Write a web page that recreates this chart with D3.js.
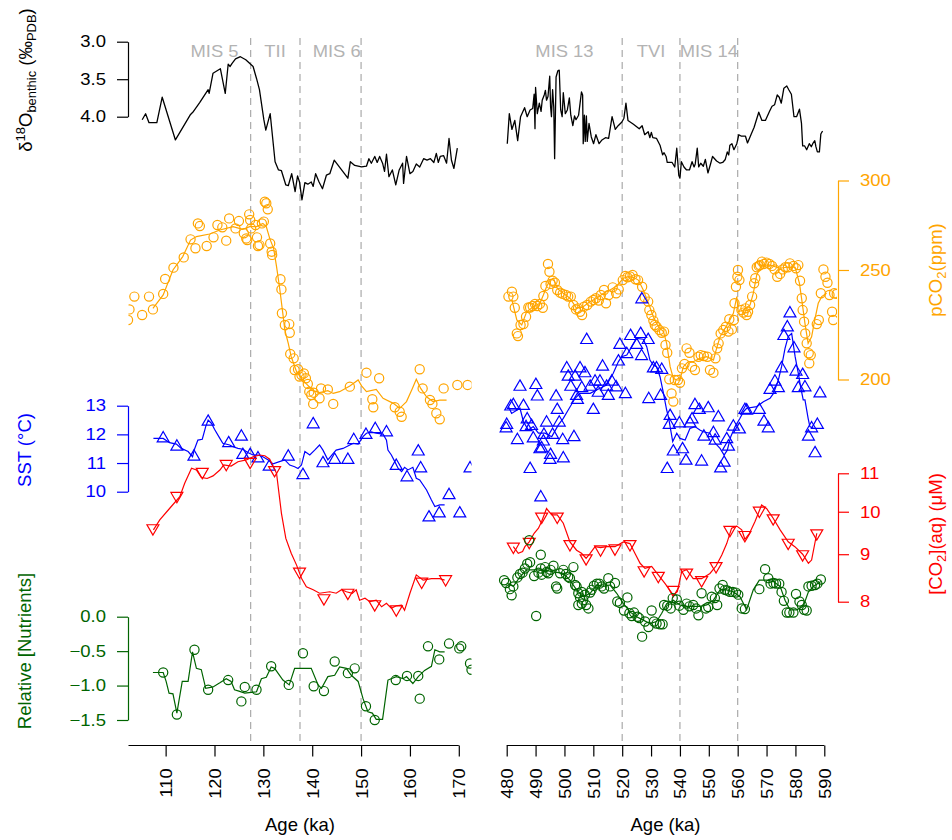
<!DOCTYPE html>
<html>
<head>
<meta charset="utf-8">
<script src="https://cdn.jsdelivr.net/npm/d3@7"></script>
<style>
  body { margin: 0; background: #fff; }
  svg { display: block; }
  text { font-family: "Liberation Sans", Arial, Helvetica, sans-serif; }
</style>
</head>
<body>
<svg id="chart" width="952" height="840"></svg>
<script>
// ---------- Age windows (ka) ----------
const ageLimLeft = [105, 170];
const ageLimRight = [480, 590];
const ageTicksLeft = [110, 120, 130, 140, 150, 160, 170];
const ageTicksRight = [480, 490, 500, 510, 520, 530, 540, 550, 560, 570, 580, 590];
const boundariesLeft = [127.4, 137.5, 150];
const boundariesRight = [520, 540, 560];
const stageLabelsLeft = [["MIS 5", 120], ["TII", 132.4], ["MIS 6", 145]];
const stageLabelsRight = [["MIS 13", 500], ["TVI", 530], ["MIS 14", 550]];

// ---------- benthic d18O (permil PDB) ----------
const d18oLeft = [[105.2,4.04],[105.9,3.96],[106.6,4.08],[108.2,4.08],[109.3,3.74],[112.0,4.31],[115.1,3.97],[115.7,3.93],[117.0,3.81],[118.3,3.68],[118.7,3.64],[118.9,3.69],[119.7,3.42],[121.2,3.36],[122.2,3.69],[122.8,3.30],[123.2,3.33],[123.6,3.29],[124.3,3.23],[125.3,3.20],[126.4,3.24],[127.9,3.33],[128.6,3.49],[129.2,3.64],[130.1,4.04],[130.5,4.18],[131.4,3.96],[132.4,4.60],[133.1,4.71],[133.7,4.72],[134.6,4.91],[135.1,4.92],[135.8,4.76],[136.5,5.00],[137.0,4.79],[137.4,4.87],[137.9,5.11],[138.5,4.88],[139.1,4.90],[139.8,4.87],[140.2,4.93],[140.7,4.76],[141.4,4.87],[142.1,4.96],[142.9,4.78],[143.6,4.76],[144.5,4.58],[147.3,4.82],[147.8,4.60],[148.7,4.65],[150.1,4.67],[151.1,4.66],[151.6,4.56],[152.1,4.62],[152.8,4.53],[153.3,4.61],[153.8,4.53],[154.4,4.62],[154.8,4.73],[155.2,4.50],[155.7,4.80],[156.4,4.71],[157.1,4.91],[157.8,4.71],[158.5,4.62],[158.7,4.89],[159.3,4.53],[160.0,4.76],[160.6,4.73],[161.3,4.63],[162.0,4.67],[162.8,4.56],[163.5,4.58],[164.2,4.56],[164.9,4.61],[165.4,4.49],[165.8,4.61],[166.2,4.53],[166.9,4.52],[167.5,4.62],[168.0,4.29],[168.5,4.58],[169.0,4.69],[169.7,4.42]];
const d18oRight = [[480.2,4.36],[480.9,3.96],[481.8,4.17],[482.8,4.05],[483.8,4.32],[484.8,4.00],[486.2,3.88],[487.1,4.00],[488.1,3.91],[489.0,3.89],[489.5,3.70],[489.8,4.16],[490.0,3.61],[490.6,3.96],[491.3,3.82],[491.9,3.93],[492.3,3.78],[493.0,3.71],[493.4,3.65],[493.8,3.78],[494.3,3.73],[494.9,3.46],[495.2,3.87],[495.5,4.00],[495.9,3.64],[496.3,3.87],[496.6,4.56],[497.1,3.47],[497.7,3.39],[498.2,3.38],[498.7,3.91],[499.2,4.00],[499.6,3.68],[500.3,3.96],[501.0,3.91],[501.7,3.75],[502.2,3.98],[502.9,4.12],[503.5,3.99],[504.0,4.04],[504.9,3.98],[505.9,3.67],[506.3,3.71],[506.5,4.36],[506.9,3.98],[507.2,4.33],[507.6,3.99],[507.9,4.33],[508.5,4.09],[509.3,4.27],[510.1,4.36],[510.9,4.24],[512.0,4.36],[513.0,4.31],[514.2,4.28],[515.3,4.29],[516.5,4.00],[517.6,4.17],[518.6,4.12],[519.9,4.07],[520.6,4.02],[521.3,3.82],[522.0,4.05],[523.9,4.10],[525.9,4.16],[526.9,4.12],[527.8,4.24],[529.0,4.20],[529.6,4.28],[530.1,4.21],[530.6,4.28],[531.9,4.29],[533.1,4.38],[534.0,4.51],[534.5,4.48],[535.2,4.53],[535.6,4.61],[537.3,4.61],[538.2,4.67],[538.9,4.42],[539.6,4.78],[540.0,4.82],[540.5,4.60],[541.4,4.67],[542.3,4.71],[543.3,4.71],[544.2,4.60],[544.9,4.67],[545.3,4.63],[546.0,4.42],[546.5,4.67],[547.2,4.62],[548.1,4.66],[548.8,4.57],[549.7,4.75],[550.6,4.63],[551.3,4.53],[552.7,4.59],[553.9,4.62],[554.8,4.61],[555.7,4.57],[556.4,4.47],[556.9,4.51],[557.3,4.38],[558.0,4.36],[558.7,4.44],[559.7,4.36],[560.4,4.24],[561.3,4.26],[562.7,4.26],[563.4,4.35],[564.6,4.24],[565.7,4.14],[567.3,3.94],[568.4,4.05],[569.6,4.05],[571.0,3.93],[571.9,3.86],[572.8,3.84],[573.7,3.71],[574.4,3.74],[575.1,3.82],[576.0,3.62],[577.0,3.59],[577.7,3.64],[578.6,3.70],[579.5,4.00],[580.4,4.00],[581.4,3.90],[582.1,4.09],[582.5,4.39],[583.2,4.39],[583.9,4.44],[584.8,4.36],[585.5,4.40],[586.0,4.36],[586.7,4.32],[587.1,4.40],[587.6,4.47],[588.3,4.47],[588.8,4.23],[589.4,4.19]];

// ---------- atmospheric pCO2 (ppm): samples and running mean ----------
const pco2Left = [[102.3,225.8],[102.6,230.7],[103.6,236.8],[105.2,228.1],[106.6,236.8],[107.4,230.7],[109.5,238.1],[109.9,245.5],[111.6,251.2],[113.7,256.5],[115.1,266.1],[116.1,261.3],[116.6,274.9],[117.0,273.4],[118.4,262.5],[119.8,267.2],[120.6,274.0],[121.6,272.7],[122.4,265.4],[123.0,277.7],[124.3,272.1],[125.0,276.2],[126.0,269.4],[126.5,266.6],[126.7,265.7],[127.1,280.0],[127.3,276.8],[127.5,272.1],[128.4,274.0],[128.7,267.2],[128.9,262.5],[129.2,263.0],[129.7,274.9],[130.1,275.9],[130.3,287.3],[130.6,286.4],[130.9,282.9],[131.4,263.9],[131.7,259.5],[131.8,257.8],[133.5,245.3],[133.7,240.3],[133.8,228.9],[134.4,223.5],[135.3,223.9],[135.4,220.0],[135.5,210.7],[136.2,208.8],[136.4,203.9],[137.1,204.2],[137.4,201.2],[137.8,201.8],[138.3,202.5],[138.7,200.5],[139.1,198.2],[139.4,195.1],[139.8,193.8],[140.2,190.3],[140.3,194.7],[141.5,192.5],[141.8,196.4],[143.2,196.0],[144.3,190.3],[147.7,197.1],[151.1,202.8],[152.3,192.1],[152.5,189.0],[153.7,200.5],[156.9,189.0],[157.9,187.3],[158.3,185.4],[162.0,204.2],[162.6,196.4],[164.1,191.8],[164.6,190.3],[165.4,186.7],[166.1,184.4],[166.9,196.4],[169.7,197.8],[171.8,197.8]];
const pco2MeanLeft = [[107.4,231.2],[109.5,237.6],[111.5,250.0],[113.5,256.9],[115.1,265.7],[116.3,267.6],[119.0,269.0],[121.1,271.2],[123.8,273.1],[125.8,271.6],[127.2,273.1],[128.6,273.1],[129.9,274.9],[130.6,273.1],[131.3,266.6],[132.1,261.3],[132.7,251.7],[133.3,241.6],[133.9,230.4],[134.4,221.2],[135.1,215.3],[135.7,209.5],[136.8,203.2],[137.8,200.5],[138.8,198.2],[140.2,195.5],[141.5,194.7],[143.2,195.5],[144.3,194.4],[145.6,195.1],[147.7,197.4],[149.4,199.8],[150.1,197.4],[151.1,195.1],[153.1,196.0],[154.5,192.5],[156.6,190.5],[157.9,188.6],[159.3,191.2],[160.5,196.4],[161.3,200.1],[162.2,196.4],[163.4,193.1],[164.7,191.2],[166.1,191.8],[167.5,191.8]];
const pco2Right = [[480.6,236.8],[481.8,239.2],[482.3,236.8],[482.8,231.5],[483.5,219.7],[483.9,218.5],[484.8,223.5],[485.8,223.9],[486.7,227.3],[487.5,231.6],[488.1,231.6],[489.0,232.3],[489.8,233.3],[490.6,232.3],[491.5,233.3],[492.5,231.5],[492.7,237.1],[493.4,242.0],[494.3,253.1],[494.8,249.1],[495.2,243.0],[495.9,244.6],[496.7,243.6],[497.5,240.0],[498.5,238.7],[499.4,238.1],[500.5,237.6],[501.3,236.8],[502.2,236.8],[503.1,232.8],[504.0,230.7],[504.7,231.2],[505.4,229.6],[506.1,228.1],[506.8,232.0],[507.9,232.8],[509.1,234.4],[510.0,235.2],[510.9,236.0],[511.9,234.9],[512.6,237.6],[513.7,240.0],[514.4,233.6],[515.3,237.6],[516.7,241.3],[517.9,238.4],[518.8,240.3],[520.2,244.9],[521.1,247.0],[521.8,246.3],[522.7,246.7],[523.6,247.5],[524.6,245.3],[525.5,244.9],[526.9,241.6],[527.8,236.4],[529.0,234.4],[529.4,230.4],[530.1,228.1],[530.8,225.5],[531.3,223.5],[531.9,222.7],[532.9,221.2],[533.7,220.0],[534.5,220.5],[535.0,214.6],[535.6,211.2],[536.3,200.1],[537.1,194.4],[537.7,191.2],[538.2,199.8],[539.3,199.8],[540.0,198.7],[540.7,204.6],[541.6,206.4],[542.3,213.1],[543.3,211.2],[544.2,205.3],[545.2,203.9],[546.4,209.5],[547.2,210.2],[548.3,209.8],[549.5,209.5],[550.4,203.9],[551.6,202.8],[552.3,208.8],[552.9,213.1],[553.4,215.3],[554.1,219.7],[555.0,221.2],[555.9,222.7],[556.8,220.5],[557.1,226.1],[558.0,221.5],[558.7,225.8],[558.9,233.6],[559.4,241.6],[559.9,246.6],[560.1,250.0],[560.6,244.9],[561.3,230.4],[562.0,229.2],[562.7,231.2],[563.1,228.1],[563.6,229.6],[564.3,232.8],[565.0,236.8],[565.7,243.3],[566.1,245.8],[566.6,251.4],[567.3,252.1],[567.7,252.5],[568.4,254.3],[569.1,253.1],[570.0,253.8],[571.0,253.1],[571.9,252.1],[572.8,250.3],[573.7,246.6],[574.7,248.0],[575.6,250.3],[576.5,251.4],[577.4,251.4],[578.1,253.4],[579.3,252.1],[580.2,250.9],[581.0,252.5],[581.6,244.6],[582.2,236.0],[582.5,230.4],[583.0,225.0],[583.4,219.7],[583.9,215.3],[584.6,211.0],[584.8,206.7],[585.3,210.2],[587.4,223.9],[588.1,225.8],[588.8,238.4],[589.7,250.3],[590.4,246.6],[591.1,243.6],[591.8,237.6],[592.7,229.6],[593.1,225.8],[593.4,238.4],[594.3,238.1]];
const pco2MeanRight = [[481.8,235.2],[483.5,225.8],[485.2,223.5],[486.9,229.6],[489.2,232.0],[491.5,233.6],[492.7,237.6],[493.8,241.6],[495.0,244.9],[496.2,245.8],[497.5,240.8],[499.6,238.4],[501.9,236.0],[504.2,231.2],[506.5,232.0],[508.9,234.4],[511.2,236.0],[513.5,238.4],[515.8,240.0],[518.1,242.0],[520.4,245.8],[522.1,246.6],[523.9,246.3],[525.6,244.9],[527.3,240.0],[529.1,233.6],[530.8,227.3],[532.5,222.7],[534.3,220.5],[535.4,215.3],[536.6,205.3],[537.7,200.5],[538.9,199.8],[540.0,199.8],[541.2,205.3],[542.9,207.4],[544.6,207.4],[546.9,208.8],[549.3,209.5],[551.6,208.1],[552.7,213.1],[553.9,218.2],[555.6,221.9],[557.3,225.8],[558.5,228.9],[559.7,236.8],[560.2,229.6],[562.0,230.4],[564.3,232.8],[565.4,238.4],[566.6,247.5],[568.3,252.5],[571.2,252.5],[574.7,250.9],[577.0,251.4],[579.9,251.4],[581.4,243.3],[582.2,235.2],[583.3,224.2],[584.4,215.3],[585.6,218.2],[586.7,225.8],[587.9,233.6],[589.1,236.8],[590.8,238.4]];

// ---------- sea surface temperature (deg C): samples and running mean ----------
const sstLeft = [[109.5,11.86],[112.3,11.57],[115.8,11.22],[118.7,12.44],[122.9,11.69],[125.5,11.92],[125.8,11.28],[127.3,11.28],[128.9,11.16],[131.2,10.87],[135.1,11.22],[138.1,10.58],[140.2,12.35],[142.2,10.99],[144.6,11.11],[147.3,11.11],[148.5,11.80],[151.0,11.98],[152.9,12.18],[155.2,12.07],[157.2,10.90],[159.4,10.50],[161.7,11.40],[162.2,10.81],[163.9,9.10],[166.0,9.24],[168.0,9.88],[170.2,9.24],[172.3,10.81]];
const sstMeanLeft = [[107.5,11.86],[109.5,11.86],[110.8,11.71],[112.2,11.66],[113.2,11.51],[114.6,11.40],[115.5,11.22],[115.9,11.48],[116.6,11.80],[117.5,11.83],[118.2,12.27],[118.7,12.50],[119.4,12.38],[120.0,12.18],[121.1,11.86],[121.7,11.69],[123.1,11.63],[123.8,11.57],[124.8,11.51],[125.8,11.48],[126.9,11.36],[127.9,11.28],[128.9,11.28],[129.9,11.22],[131.0,11.11],[132.0,10.97],[133.3,11.05],[134.4,11.11],[135.4,10.93],[136.4,10.87],[137.1,10.81],[137.8,10.93],[138.5,11.40],[139.5,11.28],[140.5,11.45],[141.5,11.63],[142.2,11.45],[143.2,11.11],[144.3,11.34],[144.9,11.45],[146.3,11.51],[147.7,11.63],[148.4,11.69],[149.4,11.66],[150.4,11.92],[151.1,12.04],[152.1,12.09],[153.1,12.04],[154.5,12.01],[155.2,11.80],[155.5,11.45],[156.2,11.28],[156.9,11.05],[157.6,10.81],[158.3,10.70],[158.9,10.85],[159.6,10.76],[160.6,10.85],[161.3,10.47],[162.0,10.41],[163.4,10.06],[164.4,9.71],[165.1,9.48],[166.1,9.54],[167.1,9.54]];
const sstRight = [[526.8,16.71],[507.7,15.29],[500.8,14.30],[505.4,14.30],[513.2,14.36],[519.2,15.12],[522.9,15.43],[526.4,15.50],[525.0,15.12],[529.0,15.29],[521.6,14.80],[518.7,14.54],[526.7,14.73],[530.8,14.30],[531.9,14.30],[533.7,14.25],[501.3,14.01],[503.7,14.01],[507.1,14.13],[510.6,13.84],[502.2,13.66],[506.0,13.61],[508.9,13.66],[512.3,13.84],[516.4,13.84],[514.6,13.66],[517.9,13.64],[504.2,13.34],[504.5,13.20],[511.7,13.45],[515.2,13.34],[484.6,13.66],[490.1,13.72],[490.6,13.32],[497.1,13.32],[482.3,13.02],[481.4,12.97],[485.8,12.99],[497.5,12.85],[510.0,12.85],[521.1,13.40],[529.2,13.23],[533.3,13.34],[578.1,16.22],[577.2,15.73],[576.0,15.43],[579.5,15.00],[575.2,14.30],[572.9,13.84],[574.1,13.61],[571.2,13.55],[580.2,14.19],[582.5,14.07],[583.3,13.64],[581.0,13.61],[588.5,13.43],[545.2,13.02],[546.7,12.85],[549.8,12.91],[562.5,12.85],[567.5,12.85],[480.0,12.33],[479.8,12.21],[487.1,12.52],[486.7,12.25],[488.6,12.29],[493.8,12.41],[498.2,12.41],[483.7,11.80],[489.2,11.86],[492.9,11.98],[495.9,11.98],[499.4,11.80],[503.3,11.90],[492.7,11.75],[492.1,11.51],[491.5,11.48],[495.2,11.28],[495.0,11.11],[499.6,11.16],[488.1,10.79],[491.8,9.80],[536.6,12.64],[536.3,12.33],[539.8,12.38],[537.7,11.40],[540.9,11.48],[535.6,10.79],[542.1,11.08],[547.5,11.05],[553.3,12.59],[544.2,12.52],[543.5,12.38],[551.6,12.04],[548.3,11.92],[552.2,11.78],[556.2,11.83],[558.5,12.27],[560.6,12.17],[556.8,11.57],[555.3,11.01],[554.1,10.81],[563.1,12.83],[569.1,12.44],[570.6,12.21],[584.5,11.92],[587.6,12.33],[585.6,12.21],[586.8,11.34]];
const sstMeanRight = [[480.6,12.97],[481.7,12.73],[484.6,12.91],[485.8,12.44],[487.5,12.15],[489.2,12.27],[491.0,12.04],[493.3,12.04],[495.6,11.92],[497.9,12.33],[499.6,12.56],[501.3,12.85],[503.7,13.26],[505.4,13.43],[508.9,13.43],[512.3,13.61],[514.6,13.72],[516.9,14.13],[518.7,14.54],[519.8,14.71],[521.6,14.77],[523.3,15.06],[525.0,15.35],[527.3,15.32],[528.5,15.06],[529.6,14.59],[530.8,14.42],[531.9,14.36],[533.1,14.01],[534.3,13.43],[535.4,12.85],[536.0,12.62],[537.5,11.75],[538.9,12.04],[540.0,11.86],[541.8,11.80],[543.5,12.21],[545.2,12.27],[546.9,12.15],[548.1,12.09],[550.4,12.04],[552.2,11.69],[553.9,11.51],[555.3,11.28],[556.4,11.45],[557.6,11.92],[559.1,12.27],[560.8,12.56],[562.0,12.79],[563.1,12.91],[566.6,12.97],[568.9,13.14],[571.2,13.26],[572.4,13.43],[574.1,13.90],[575.2,14.36],[576.4,15.00],[577.5,15.41],[578.7,15.52],[579.9,14.71],[581.0,14.13],[581.8,13.66],[582.7,13.20],[583.3,13.20],[584.4,12.56],[585.0,12.27],[586.2,12.21]];

// ---------- dissolved [CO2](aq) (uM): samples and running mean ----------
const co2aqLeft = [[107.4,9.60],[112.3,10.40],[117.5,11.04],[122.4,11.26],[127.3,11.32],[132.3,11.09],[137.4,8.62],[142.4,8.07],[147.3,8.18],[152.8,7.95],[157.2,7.85],[162.4,8.41],[167.3,8.46]];
const co2aqMeanLeft = [[107.5,9.56],[108.8,9.80],[110.8,10.08],[112.9,10.38],[113.9,10.73],[115.3,11.14],[116.3,11.09],[117.3,10.89],[118.5,10.86],[119.7,10.93],[121.1,11.09],[121.9,11.23],[123.4,11.20],[124.8,11.32],[126.5,11.37],[127.9,11.46],[129.2,11.51],[130.3,11.49],[131.3,11.39],[132.7,11.00],[133.7,9.96],[134.6,9.36],[135.7,9.02],[136.8,8.76],[137.8,8.48],[138.8,8.30],[140.2,8.24],[141.5,8.17],[143.6,8.20],[144.9,8.17],[146.0,8.24],[147.0,8.20],[148.2,8.17],[149.0,8.24],[149.7,8.03],[150.8,8.07],[151.8,8.00],[153.1,8.03],[154.2,7.90],[155.2,7.97],[156.2,7.87],[157.2,7.92],[158.3,7.93],[158.9,7.83],[160.0,8.17],[161.3,8.55],[162.7,8.44],[164.4,8.47],[166.1,8.47],[167.1,8.44]];
const co2aqRight = [[482.3,9.17],[487.8,9.28],[492.1,9.88],[497.5,9.88],[501.9,9.23],[507.5,8.91],[512.5,9.11],[517.5,9.13],[522.7,9.23],[527.6,8.65],[532.5,8.53],[537.7,8.24],[542.3,8.60],[547.5,8.44],[552.5,8.74],[557.3,9.56],[562.5,9.44],[567.5,10.03],[572.3,9.84],[577.5,9.26],[582.5,9.00],[587.4,9.48]];
const co2aqMeanRight = [[482.3,9.17],[484.0,9.02],[485.5,9.06],[486.3,9.17],[487.8,9.28],[489.5,9.48],[491.0,9.60],[492.1,9.76],[493.8,10.08],[495.6,9.92],[497.5,9.92],[499.6,9.72],[501.9,9.28],[504.2,9.09],[505.9,9.02],[507.5,8.91],[508.9,9.02],[510.6,9.17],[512.5,9.15],[514.6,9.17],[517.5,9.17],[520.4,9.28],[522.7,9.24],[524.4,9.02],[526.2,8.80],[527.9,8.69],[530.2,8.73],[532.5,8.55],[534.8,8.37],[537.7,8.13],[539.1,8.20],[540.6,8.62],[542.3,8.66],[544.6,8.47],[547.5,8.47],[550.4,8.58],[552.5,8.74],[554.5,8.98],[556.2,9.24],[557.9,9.60],[559.7,9.65],[561.4,9.56],[562.5,9.34],[564.1,9.48],[566.0,9.76],[568.3,10.17],[570.0,10.08],[572.3,9.84],[574.7,9.56],[577.5,9.28],[579.8,9.17],[582.5,9.00],[584.5,8.80],[585.6,8.87],[587.4,9.48]];

// ---------- relative nutrient concentration: samples and running mean ----------
const nutrLeft = [[109.5,-0.81],[112.3,-1.42],[115.9,-0.48],[118.7,-1.06],[122.8,-0.92],[125.5,-1.23],[126.2,-1.02],[128.6,-1.06],[131.6,-0.72],[135.2,-0.99],[138.1,-0.53],[140.3,-1.01],[142.4,-1.08],[144.6,-0.65],[147.3,-0.82],[148.7,-0.75],[151.0,-1.30],[152.8,-1.50],[157.1,-0.92],[159.4,-0.86],[161.7,-0.86],[162.0,-1.19],[163.7,-0.43],[166.0,-0.62],[168.0,-0.39],[170.1,-0.46],[170.5,-0.43],[172.3,-0.68],[172.6,-0.77]];
const nutrMeanLeft = [[107.4,-0.81],[109.5,-0.81],[110.1,-0.94],[110.7,-1.11],[111.5,-1.12],[112.3,-1.40],[113.4,-0.94],[114.6,-0.94],[115.5,-0.51],[116.3,-0.75],[117.3,-0.77],[118.2,-1.04],[119.7,-1.02],[121.1,-0.96],[122.4,-0.90],[123.4,-0.94],[124.1,-1.06],[125.0,-1.08],[126.2,-1.11],[127.5,-1.10],[128.6,-1.09],[129.6,-0.90],[130.6,-0.88],[131.6,-0.73],[132.3,-0.75],[134.0,-0.92],[135.3,-0.99],[136.4,-0.75],[138.8,-0.75],[139.8,-0.75],[141.2,-0.99],[141.9,-1.04],[143.2,-0.87],[144.6,-0.85],[145.6,-0.73],[147.0,-0.75],[148.0,-0.85],[149.4,-0.94],[150.4,-1.19],[151.4,-1.38],[152.3,-1.40],[153.1,-1.49],[154.4,-1.49],[155.5,-0.92],[157.2,-0.87],[158.6,-0.90],[159.3,-0.87],[160.6,-0.97],[161.7,-0.87],[163.0,-0.78],[164.4,-0.72],[165.1,-0.48],[166.1,-0.51],[167.1,-0.51]];
const nutrRight = [[479.1,0.53],[479.8,0.49],[481.1,0.40],[481.7,0.31],[482.3,0.44],[483.7,0.57],[484.6,0.62],[485.5,0.64],[486.3,0.70],[487.1,0.77],[488.1,0.79],[489.5,0.59],[490.2,0.01],[491.0,0.64],[491.8,0.70],[492.1,0.61],[493.3,0.72],[493.8,0.65],[494.4,0.63],[495.2,0.68],[496.2,0.74],[497.1,0.44],[497.5,0.41],[498.5,0.63],[499.6,0.68],[500.5,0.62],[501.3,0.58],[501.9,0.56],[503.1,0.72],[503.7,0.46],[504.2,0.44],[504.8,0.34],[505.4,0.28],[506.0,0.36],[506.5,0.24],[507.1,0.32],[504.8,0.17],[506.0,0.19],[507.5,0.17],[508.3,0.12],[508.9,0.35],[509.4,0.39],[510.2,0.45],[511.2,0.48],[512.1,0.48],[512.9,0.44],[513.7,0.41],[515.2,0.56],[515.8,0.44],[517.5,0.49],[518.3,0.22],[519.2,0.20],[520.6,0.09],[521.8,0.28],[522.5,0.05],[523.3,0.01],[524.1,0.06],[525.3,0.00],[525.9,-0.02],[526.9,-0.29],[527.9,-0.07],[529.1,-0.15],[530.2,0.09],[531.0,-0.07],[531.9,-0.10],[533.1,-0.11],[534.0,-0.11],[534.5,0.17],[535.6,0.16],[536.8,0.12],[537.5,0.27],[538.9,0.25],[539.8,0.16],[541.2,0.10],[542.3,0.19],[543.3,0.15],[544.6,0.17],[545.6,0.12],[546.4,0.02],[547.5,0.34],[549.0,0.12],[549.8,0.14],[551.0,0.29],[552.1,0.27],[552.9,0.17],[553.7,0.41],[554.8,0.46],[555.6,0.39],[556.4,0.38],[557.3,0.36],[558.3,0.36],[559.4,0.35],[560.2,0.32],[561.4,0.12],[562.5,0.11],[567.5,0.40],[569.5,0.69],[570.6,0.56],[571.4,0.48],[572.4,0.49],[573.3,0.48],[574.4,0.48],[575.2,0.36],[576.0,0.23],[577.0,0.06],[577.9,0.06],[579.3,0.06],[580.2,0.33],[581.4,0.22],[582.2,0.17],[583.0,0.10],[583.9,0.09],[584.5,0.44],[585.6,0.45],[586.8,0.46],[587.6,0.48],[588.8,0.54],[487.8,1.11],[491.8,0.90]];
const nutrMeanRight = [[480.0,0.49],[482.3,0.44],[484.6,0.58],[486.9,0.68],[489.2,0.68],[492.7,0.68],[496.2,0.65],[499.6,0.63],[501.9,0.53],[504.2,0.39],[506.5,0.29],[508.9,0.34],[511.2,0.46],[513.5,0.44],[515.8,0.46],[518.1,0.34],[520.4,0.19],[522.7,0.07],[525.0,0.00],[527.3,-0.05],[529.6,-0.10],[531.9,-0.07],[533.7,0.05],[535.4,0.19],[537.7,0.24],[540.0,0.17],[542.3,0.15],[544.6,0.15],[546.9,0.15],[549.3,0.17],[551.6,0.24],[553.9,0.39],[556.2,0.39],[558.5,0.36],[560.8,0.29],[563.1,0.10],[565.4,0.39],[567.5,0.53],[570.0,0.53],[572.4,0.51],[574.7,0.44],[576.4,0.24],[578.1,0.10],[580.4,0.10],[582.7,0.15],[584.5,0.36],[586.2,0.44],[588.8,0.51]];

// ---------- axis ticks ----------
const d18oTicks = [3.0, 3.5, 4.0];
const pco2Ticks = [200, 250, 300];
const sstTicks = [10, 11, 12, 13];
const co2aqTicks = [8, 9, 10, 11];
const nutrTicks = [0, -0.5, -1.0, -1.5];

// ---------- colours ----------
const colD18O = "#000000";
const colPCO2 = "#FFA500";
const colSST = "#0000FF";
const colCO2aq = "#FF0000";
const colNutr = "#006400";
const colGuide = "#AAAAAA";
const colStage = "#B3B3B3";

// ---------- layout ----------
const svg = d3.select("#chart");
const W = 952, H = 840;
const axisY = 745.5;
const leftAxisX = 128;
const rightAxisX = 838;
const tickFont = 16.5;
const titleFont = 18.5;

// Plot regions use R-style 4% padding around the age limits
function padded(lim) { const r = lim[1] - lim[0]; return [lim[0] - 0.04 * r, lim[1] + 0.04 * r]; }
const xLeft = d3.scaleLinear().domain(padded(ageLimLeft)).range([128.5, 471.5]);
const xRight = d3.scaleLinear().domain(padded(ageLimRight)).range([494, 837]);

const yD18O = d3.scaleLinear().domain([3, 4]).range([41.7, 116.7]);
const yPCO2 = d3.scaleLog().domain([200, 300]).range([379.5, 180.5]);
const ySST = d3.scaleLinear().domain([10, 13]).range([491.7, 405.7]);
const yCO2aq = d3.scaleLog().domain([8, 11]).range([601.7, 473.3]);
const yNutr = d3.scaleLinear().domain([-1.5, 0]).range([720, 616.7]);

// widen glyph runs slightly along their baseline
function widen(sel, k) {
  sel.each(function () {
    const w = this.getComputedTextLength();
    this.setAttribute("textLength", (w * k).toFixed(2));
    this.setAttribute("lengthAdjust", "spacingAndGlyphs");
  });
}

const panels = [
  { id: "L", x: xLeft, lim: ageLimLeft, ticks: ageTicksLeft, bounds: boundariesLeft, stages: stageLabelsLeft,
    axisStart: padded(ageLimLeft)[0],
    d18o: d18oLeft, pco2: pco2Left, pco2Mean: pco2MeanLeft, sst: sstLeft, sstMean: sstMeanLeft,
    co2aq: co2aqLeft, co2aqMean: co2aqMeanLeft, nutr: nutrLeft, nutrMean: nutrMeanLeft },
  { id: "R", x: xRight, lim: ageLimRight, ticks: ageTicksRight, bounds: boundariesRight, stages: stageLabelsRight,
    axisStart: ageLimRight[0],
    d18o: d18oRight, pco2: pco2Right, pco2Mean: pco2MeanRight, sst: sstRight, sstMean: sstMeanRight,
    co2aq: co2aqRight, co2aqMean: co2aqMeanRight, nutr: nutrRight, nutrMean: nutrMeanRight }
];

const defs = svg.append("defs");

panels.forEach(p => {
  const [x0, x1] = p.x.range();
  defs.append("clipPath").attr("id", "clip" + p.id)
    .append("rect").attr("x", x0).attr("y", 0).attr("width", x1 - x0).attr("height", H);

  // stage boundaries
  svg.append("g").selectAll("line").data(p.bounds).join("line")
    .attr("x1", d => p.x(d)).attr("x2", d => p.x(d))
    .attr("y1", 38).attr("y2", axisY)
    .attr("stroke", colGuide).attr("stroke-width", 1.2).attr("stroke-dasharray", "7,5");

  // stage labels
  svg.append("g").selectAll("text").data(p.stages).join("text")
    .attr("x", d => p.x(d[1])).attr("y", 57)
    .attr("text-anchor", "middle").attr("font-size", 17).attr("fill", colStage)
    .text(d => d[0])
    .call(widen, 1.08);

  const g = svg.append("g").attr("clip-path", `url(#clip${p.id})`);
  const lineOf = ys => d3.line().x(d => p.x(d[0])).y(d => ys(d[1]));

  // benthic d18O
  g.append("path").datum(p.d18o).attr("d", lineOf(yD18O))
    .attr("fill", "none").attr("stroke", colD18O).attr("stroke-width", 1.3).attr("stroke-linejoin", "round");

  // pCO2
  g.append("path").datum(p.pco2Mean).attr("d", lineOf(yPCO2))
    .attr("fill", "none").attr("stroke", colPCO2).attr("stroke-width", 1.2);
  g.append("g").selectAll("circle").data(p.pco2).join("circle")
    .attr("cx", d => p.x(d[0])).attr("cy", d => yPCO2(d[1])).attr("r", 4.6)
    .attr("fill", "none").attr("stroke", colPCO2).attr("stroke-width", 1.2);

  // SST
  g.append("path").datum(p.sstMean).attr("d", lineOf(ySST))
    .attr("fill", "none").attr("stroke", colSST).attr("stroke-width", 1.2);
  const tri = d3.symbol().type(d3.symbolTriangle).size(62);
  g.append("g").selectAll("path").data(p.sst).join("path")
    .attr("d", tri).attr("transform", d => `translate(${p.x(d[0])},${ySST(d[1])})`)
    .attr("fill", "none").attr("stroke", colSST).attr("stroke-width", 1.2);

  // [CO2](aq)
  g.append("path").datum(p.co2aqMean).attr("d", lineOf(yCO2aq))
    .attr("fill", "none").attr("stroke", colCO2aq).attr("stroke-width", 1.2);
  g.append("g").selectAll("path").data(p.co2aq).join("path")
    .attr("d", tri).attr("transform", d => `translate(${p.x(d[0])},${yCO2aq(d[1])}) rotate(180)`)
    .attr("fill", "none").attr("stroke", colCO2aq).attr("stroke-width", 1.2);

  // nutrients
  g.append("path").datum(p.nutrMean).attr("d", lineOf(yNutr))
    .attr("fill", "none").attr("stroke", colNutr).attr("stroke-width", 1.2);
  g.append("g").selectAll("circle").data(p.nutr).join("circle")
    .attr("cx", d => p.x(d[0])).attr("cy", d => yNutr(d[1])).attr("r", 4.6)
    .attr("fill", "none").attr("stroke", colNutr).attr("stroke-width", 1.2);

  // age axis
  const ax = svg.append("g").attr("transform", `translate(0,${axisY})`)
    .call(d3.axisBottom(p.x).tickValues(p.ticks).tickSize(11).tickSizeOuter(0).tickFormat(d3.format("d")));
  ax.select(".domain").remove();
  ax.append("line").attr("x1", p.x(p.axisStart)).attr("x2", p.x(p.lim[1]))
    .attr("y1", 0).attr("y2", 0).attr("stroke", "#000").attr("stroke-width", 1.2);
  ax.selectAll(".tick line").attr("stroke", "#000").attr("stroke-width", 1.2);
  ax.selectAll(".tick text")
    .attr("transform", "rotate(-90)").attr("x", -23).attr("y", 0).attr("dy", "0.36em")
    .attr("text-anchor", "end").attr("font-size", tickFont).attr("fill", "#000")
    .call(widen, 1.1);
  ax.attr("font-family", null);

  svg.append("text").attr("x", (x0 + x1) / 2).attr("y", 831).attr("text-anchor", "middle")
    .attr("font-size", titleFont).attr("fill", "#000").text("Age (ka)");
});

// vertical value axes
function valueAxis(scale, ticks, fmt, color, side) {
  const gen = (side === "left" ? d3.axisLeft(scale) : d3.axisRight(scale))
    .tickValues(ticks).tickSize(11).tickSizeOuter(0).tickPadding(11).tickFormat(fmt);
  const a = svg.append("g").attr("transform", `translate(${side === "left" ? leftAxisX : rightAxisX},0)`).call(gen);
  a.attr("font-family", null);
  a.select(".domain").attr("stroke", color).attr("stroke-width", 1.2);
  a.selectAll(".tick line").attr("stroke", color).attr("stroke-width", 1.2);
  a.selectAll(".tick text").attr("fill", color).attr("font-size", tickFont).call(widen, 1.12);
  return a;
}
const minusFmt = f => d => d3.format(f)(d).replace("-", "\u2212");
valueAxis(yD18O, d18oTicks, d3.format(".1f"), colD18O, "left");
valueAxis(ySST, sstTicks, d3.format("d"), colSST, "left");
valueAxis(yNutr, nutrTicks, minusFmt(".1f"), colNutr, "left");
valueAxis(yPCO2, pco2Ticks, d3.format("d"), colPCO2, "right");
valueAxis(yCO2aq, co2aqTicks, d3.format("d"), colCO2aq, "right");

// axis titles (rotated)
function title(x, y, color, parts) {
  const t = svg.append("text").attr("transform", `translate(${x},${y}) rotate(-90)`)
    .attr("text-anchor", "middle").attr("font-size", titleFont).attr("fill", color);
  let shift = 0;
  parts.forEach(([s, kind]) => {
    const ts = t.append("tspan").text(s);
    let target = 0, size = titleFont;
    if (kind === "sup") { target = -7; size = titleFont * 0.7; }
    if (kind === "sub") { target = 4; size = titleFont * 0.7; }
    ts.attr("font-size", size).attr("dy", target - shift);
    shift = target;
  });
}
title(32, 80, colD18O, [["\u03B4", ""], ["18", "sup"], ["O", ""], ["benthic", "sub"], [" (\u2030", ""], ["PDB", "sub"], [")", ""]]);
title(31, 450, colSST, [["SST (\u00B0C)", ""]]);
title(31, 651, colNutr, [["Relative [Nutrients]", ""]]);
title(942, 270, colPCO2, [["pCO", ""], ["2", "sub"], ["(ppm)", ""]]);
title(942, 534, colCO2aq, [["[CO", ""], ["2", "sub"], ["](aq) (\u03BCM)", ""]]);
</script>
</body>
</html>
